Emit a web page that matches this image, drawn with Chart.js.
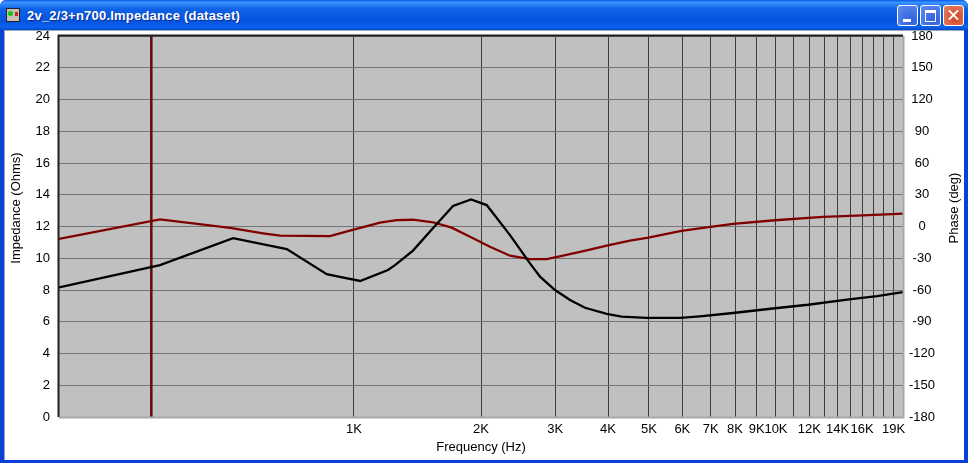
<!DOCTYPE html>
<html>
<head>
<meta charset="utf-8">
<title>2v_2/3+n700.Impedance (dataset)</title>
<script src="https://cdn.jsdelivr.net/npm/chart.js@4/dist/chart.umd.min.js"></script>
<style>
  html, body { margin: 0; padding: 0; background: #fff; }
  #page { position: relative; width: 971px; height: 464px; overflow: hidden; background: #fff; }
  #win { position: absolute; left: 0; top: 0; width: 968px; height: 463px; overflow: hidden;
         background: #0a3fd8; border-radius: 6px 6px 0 0; }
  #titlebar { position: absolute; left: 0; top: 0; width: 968px; height: 30px;
              background: linear-gradient(#0a5be8 0%, #3a93ff 8%, #0f62e6 30%, #0553de 70%, #0a62ee 90%, #0346c8 100%); }
  #title { position: absolute; left: 27px; top: 8px; color: #fff; white-space: nowrap;
           font: bold 13px "Liberation Sans", Arial, sans-serif; letter-spacing: 0.22px;
           text-shadow: 1px 1px 0 #0a2f9a; }
  #icon { position: absolute; left: 6px; top: 8px; width: 12px; height: 12px; background: #c8c0b8;
          border: 1px solid #222; }
  #icon i { position: absolute; left: 1px; top: 2px; width: 5px; height: 5px; background: #12c412; border-radius: 50%; }
  #icon b { position: absolute; right: 1px; top: 3px; width: 3px; height: 4px; background: #d02020; }
  .btn { position: absolute; top: 5px; width: 19px; height: 19px; border: 1px solid #fff;
         border-radius: 3px; background: radial-gradient(circle at 70% 75%, #2f5fdc, #5f8ff0); }
  #bmin { left: 897px; }
  #bmin::after { content: ""; position: absolute; left: 5px; top: 13px; width: 8px; height: 3px; background: #fff; }
  #bmax { left: 920px; }
  #bmax::after { content: ""; position: absolute; left: 4px; top: 4px; width: 9px; height: 8px;
                 border: 1px solid #fff; border-top-width: 3px; }
  #bclose { left: 943px; background: radial-gradient(circle at 60% 60%, #d04020, #e8876a); }
  #bclose::before, #bclose::after { content: ""; position: absolute; left: 3px; top: 8px; width: 13px; height: 2px; background: #fff; }
  #bclose::before { transform: rotate(45deg); }
  #bclose::after { transform: rotate(-45deg); }
  #client { position: absolute; left: 4px; top: 30px; width: 960px; height: 430px; background: #fff;
            border-left: 1px solid #9ab; border-top: 1px solid #9ab; box-sizing: border-box; }
  #c { position: absolute; left: 0; top: 0; }
</style>
</head>
<body>
<div id="page">
<div id="win">
  <div id="titlebar">
    <div id="icon"><i></i><b></b></div>
    <div id="title">2v_2/3+n700.Impedance (dataset)</div>
    <div class="btn" id="bmin"></div>
    <div class="btn" id="bmax"></div>
    <div class="btn" id="bclose"></div>
  </div>
  <div id="client"></div>
</div>
<canvas id="c" width="971" height="464"></canvas>
</div>
<script>
// values
const impFreq = [200, 347, 517, 693, 862, 926, 1034, 1204, 1251, 1380, 1540, 1717, 1894, 2063, 2343, 2613, 2760, 2995, 3251, 3528, 3971, 4308, 4940, 5925, 6608, 7910, 9948, 11910, 14900, 17360, 20000];
const impOhms = [8.16, 9.57, 11.26, 10.58, 9.0, 8.82, 8.57, 9.26, 9.57, 10.48, 11.91, 13.29, 13.71, 13.35, 11.46, 9.68, 8.84, 8.0, 7.37, 6.88, 6.49, 6.32, 6.24, 6.24, 6.34, 6.55, 6.85, 7.07, 7.41, 7.62, 7.87];

const phaseFreq = [200, 347, 509, 609, 668, 877, 978, 1153, 1263, 1380, 1540, 1704, 1884, 2100, 2343, 2613, 2862, 3130, 3560, 3971, 4510, 4984, 5925, 6852, 7910, 9948, 12930, 16080, 20000];
const phaseDeg = [-11.8, 6.8, -1.4, -6.4, -8.7, -9, -4, 3.6, 6.1, 6.4, 4.0, -1.1, -9.6, -19.1, -27.6, -30.9, -30.9, -27.6, -22.5, -18.1, -13.4, -10.6, -4.3, -0.8, 2.4, 5.9, 9.0, 10.6, 12.1];

const cursorFreq = [331, 331];
const cursorOhms = [0, 24];

const gridFreqs = [1000, 2000, 3000, 4000, 5000, 6000, 7000, 8000, 9000, 10000, 11000, 12000, 13000, 14000, 15000, 16000, 17000, 18000, 19000];
const labelFreqs = [1000, 2000, 3000, 4000, 5000, 6000, 7000, 8000, 9000, 10000, 12000, 14000, 16000, 19000];
const labelTexts = ['1K', '2K', '3K', '4K', '5K', '6K', '7K', '8K', '9K', '10K', '12K', '14K', '16K', '19K'];

const uiFont = '"Liberation Sans", Arial, sans-serif';

const zip = (xs, ys) => xs.map((x, i) => ({ x: x, y: ys[i] }));

// grey plot background, sunken frame, and the two side titles
// (both read bottom to top and sit above the middle of the plot)
const plotFrame = {
  id: 'plotFrame',
  beforeDraw(chart) {
    const a = chart.chartArea, ctx = chart.ctx;
    ctx.save();
    ctx.fillStyle = '#c0c0c0';
    ctx.fillRect(a.left, a.top, a.width, a.height);
    ctx.restore();
  },
  afterDatasetsDraw(chart) {
    const a = chart.chartArea, ctx = chart.ctx;
    ctx.save();
    ctx.lineWidth = 2;
    ctx.strokeStyle = '#a8a8a8';
    ctx.beginPath();
    ctx.moveTo(a.left, a.bottom + 0.5);
    ctx.lineTo(a.right + 0.5, a.bottom + 0.5);
    ctx.lineTo(a.right + 0.5, a.top);
    ctx.stroke();
    ctx.strokeStyle = '#202020';
    ctx.beginPath();
    ctx.moveTo(a.left - 0.5, a.bottom);
    ctx.lineTo(a.left - 0.5, a.top - 0.5);
    ctx.lineTo(a.right, a.top - 0.5);
    ctx.stroke();
    ctx.restore();
  },
  afterDraw(chart) {
    const ctx = chart.ctx;
    ctx.save();
    ctx.font = '13px ' + uiFont;
    ctx.fillStyle = '#000';
    ctx.textAlign = 'center';
    ctx.textBaseline = 'middle';
    [['Impedance (Ohms)', 16], ['Phase (deg)', 954]].forEach((t) => {
      ctx.save();
      ctx.translate(t[1], 208);
      ctx.rotate(-Math.PI / 2);
      ctx.fillText(t[0], 0, 0);
      ctx.restore();
    });
    ctx.restore();
  }
};

new Chart(document.getElementById('c'), {
  type: 'scatter',
  data: {
    datasets: [
      { label: 'Cursor', data: zip(cursorFreq, cursorOhms), showLine: true, pointRadius: 0,
        borderColor: '#800000', borderWidth: 1, yAxisID: 'y', order: 3 },
      { label: 'Cursor edge', data: zip(cursorFreq, cursorOhms), showLine: true, pointRadius: 0,
        borderColor: '#4a1818', borderWidth: 2.5, yAxisID: 'y', order: 4 },
      { label: 'Phase', data: zip(phaseFreq, phaseDeg), showLine: true, pointRadius: 0,
        borderColor: '#800000', borderWidth: 2.3, yAxisID: 'y2', order: 2 },
      { label: 'Impedance', data: zip(impFreq, impOhms), showLine: true, pointRadius: 0,
        borderColor: '#000000', borderWidth: 2.3, yAxisID: 'y', order: 1 }
    ]
  },
  plugins: [plotFrame],
  options: {
    responsive: false,
    animation: false,
    layout: { padding: { left: 0, right: 0, top: 36, bottom: 7 } },
    plugins: { legend: { display: false }, tooltip: { enabled: false } },
    scales: {
      x: {
        type: 'logarithmic',
        min: 200,
        max: 20000,
        afterBuildTicks: (s) => { s.ticks = gridFreqs.map((v) => ({ value: v })); },
        afterFit: (s) => { s.height = 40; },
        grid: { color: '#3c3c3c', lineWidth: 1, drawTicks: false },
        border: { display: false },
        ticks: {
          autoSkip: false, maxRotation: 0, padding: 5, color: '#000',
          font: { family: uiFont, size: 13 },
          callback: (v) => { const i = labelFreqs.indexOf(v); return i < 0 ? '' : labelTexts[i]; }
        },
        title: { display: true, text: 'Frequency (Hz)', color: '#000', padding: { top: 0, bottom: 2 },
                 font: { family: uiFont, size: 13 } }
      },
      y: {
        position: 'left',
        min: 0,
        max: 24,
        afterFit: (s) => { s.width = 59; },
        grid: { color: '#747474', lineWidth: 1, drawTicks: false },
        border: { display: false },
        ticks: { stepSize: 2, padding: 9, color: '#000', font: { family: uiFont, size: 13 } }
      },
      y2: {
        position: 'right',
        min: -180,
        max: 180,
        afterFit: (s) => { s.width = 68; },
        grid: { display: false, drawTicks: false },
        border: { display: false },
        ticks: { stepSize: 30, padding: 6, crossAlign: 'center', color: '#000', font: { family: uiFont, size: 13 } }
      }
    }
  }
});
</script>
</body>
</html>
